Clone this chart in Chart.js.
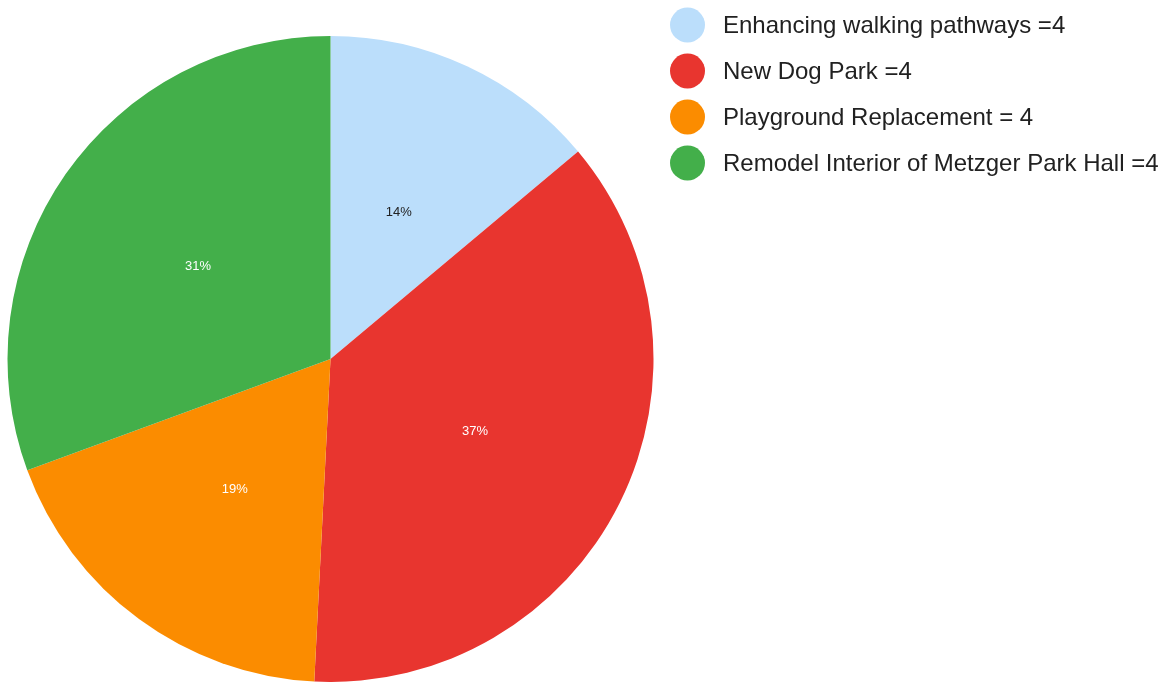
<!DOCTYPE html>
<html>
<head>
<meta charset="utf-8">
<script src="https://cdn.jsdelivr.net/npm/chart.js@4"></script>
<style>
    html, body { margin: 0; padding: 0; background: #fff; }
    #wrap { width: 1165px; height: 682px; position: relative; }
</style>
</head>
<body>
<div id="wrap"><canvas id="pie-chart"></canvas></div>
<script>
// Chart data
const categories = [
    'Enhancing walking pathways =4',
    'New Dog Park =4',
    'Playground Replacement = 4',
    'Remodel Interior of Metzger Park Hall =4'
];
const shares = [13.9, 36.9, 18.6, 30.6];
const sliceColors = ['#BBDEFB', '#E8352F', '#FB8C00', '#43AF4A'];
const labelColors = ['#222222', '#ffffff', '#ffffff', '#ffffff'];

const fontFamily = '"Liberation Sans", Arial, sans-serif';

// Percent labels in the middle of each slice
const sliceLabels = {
    id: 'sliceLabels',
    afterDatasetsDraw(chart) {
        const ctx = chart.ctx;
        const meta = chart.getDatasetMeta(0);
        const values = chart.data.datasets[0].data;
        const total = values.reduce((s, v) => s + v, 0);
        ctx.save();
        ctx.font = '13px ' + fontFamily;
        ctx.textAlign = 'center';
        ctx.textBaseline = 'middle';
        meta.data.forEach((arc, i) => {
            const pos = arc.tooltipPosition();
            ctx.fillStyle = labelColors[i];
            ctx.fillText(Math.round(values[i] / total * 100) + '%', pos.x, pos.y);
        });
        ctx.restore();
    }
};

// Legend on the right, circles + text
const sideLegend = {
    id: 'sideLegend',
    afterDraw(chart) {
        const ctx = chart.ctx;
        const ds = chart.data.datasets[0];
        ctx.save();
        ctx.font = '24px ' + fontFamily;
        ctx.textBaseline = 'middle';
        ctx.textAlign = 'left';
        chart.data.labels.forEach((label, i) => {
            const cy = 25 + i * 46;
            ctx.beginPath();
            ctx.arc(687.5, cy, 17.5, 0, Math.PI * 2);
            ctx.fillStyle = ds.backgroundColor[i];
            ctx.fill();
            ctx.fillStyle = '#212121';
            ctx.fillText(label, 723, cy + 1);
        });
        ctx.restore();
    }
};

new Chart(document.getElementById('pie-chart'), {
    type: 'pie',
    data: {
        labels: categories,
        datasets: [{
            data: shares,
            backgroundColor: sliceColors,
            borderWidth: 0
        }]
    },
    options: {
        responsive: true,
        maintainAspectRatio: false,
        animation: false,
        layout: {
            padding: { top: 36, left: 7, bottom: 0, right: 511 }
        },
        plugins: {
            legend: { display: false },
            tooltip: { enabled: false }
        }
    },
    plugins: [sliceLabels, sideLegend]
});
</script>
</body>
</html>
